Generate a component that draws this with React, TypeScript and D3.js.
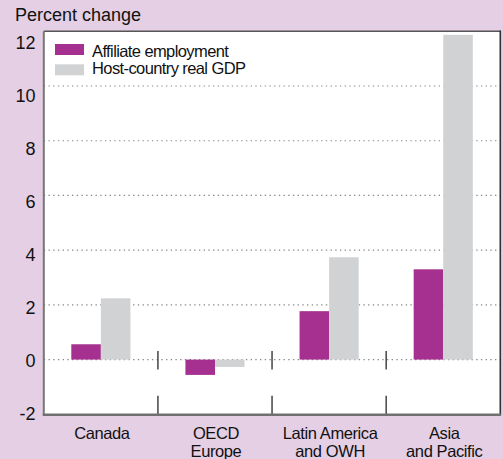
import React from "react";
import * as d3 from "d3";

const categories: string[][] = [
  ["Canada"],
  ["OECD", "Europe"],
  ["Latin America", "and OWH"],
  ["Asia", "and Pacific"],
];
const seriesNames = ["Affiliate employment", "Host-country real GDP"];
const affiliateEmployment = [0.56, -0.56, 1.77, 3.3];
const hostCountryGDP = [2.24, -0.27, 3.74, 11.87];
const yTicks = [-2, 0, 2, 4, 6, 8, 10, 12];
const gridValues = [0, 2, 4, 6, 8, 10];

const W = 503;
const H = 459;
const BG = "#E5CFE4";
const PURPLE = "#A5308F";
const GRAY = "#D1D2D4";
const FONT = "'Liberation Sans', Arial, Helvetica, sans-serif";

export default function App() {
  const left = 43.8;
  const right = 500.3;
  const top = 31.3;
  const bottom = 414.3;

  const x = d3
    .scaleBand<number>()
    .domain(categories.map((_, i) => i))
    .range([left, right])
    .paddingInner(0)
    .paddingOuter(0);
  const xs = d3
    .scaleBand<string>()
    .domain(seriesNames)
    .range([0, x.bandwidth()])
    .paddingInner(0)
    .paddingOuter(0.93);
  const y = d3.scaleLinear().domain([-2, 12]).range([bottom, top]);
  const yLabel = d3.scaleLinear().domain([-2, 12]).range([414, 43]);

  const series = [
    { name: seriesNames[0], values: affiliateEmployment, color: PURPLE },
    { name: seriesNames[1], values: hostCountryGDP, color: GRAY },
  ];

  const separators = categories.slice(1).map((_, i) => x(i + 1) as number);

  return (
    <svg
      width={W}
      height={H}
      style={{ position: "absolute", left: 0, top: 0, display: "block" }}
      fontFamily={FONT}
    >
      <rect x={0} y={0} width={W} height={H} fill={BG} />
      <text x={15} y={21} fontSize={18} fill="#111">
        Percent change
      </text>

      {/* plot area */}
      <rect x={left} y={top} width={right - left} height={bottom - top} fill="#fff" />

      {/* gridlines */}
      {gridValues.map((v) => (
        <line
          key={v}
          x1={left}
          x2={right}
          y1={y(v)}
          y2={y(v)}
          stroke="#8a8a8a"
          strokeWidth={1.2}
          strokeDasharray="1.4 3.3"
        />
      ))}

      {/* bars */}
      {series.map((s) =>
        s.values.map((v, i) => {
          const bx = (x(i) as number) + (xs(s.name) as number);
          const y0 = y(0);
          const y1 = y(v);
          return (
            <rect
              key={s.name + i}
              x={bx}
              y={Math.min(y0, y1)}
              width={xs.bandwidth()}
              height={Math.abs(y1 - y0)}
              fill={s.color}
            />
          );
        })
      )}

      {/* separators */}
      {separators.map((sx, i) => (
        <g key={i} stroke="#444" strokeWidth={1.5}>
          <line x1={sx} x2={sx} y1={y(0) - 8.5} y2={y(0) + 10} />
          <line x1={sx} x2={sx} y1={bottom - 18.5} y2={bottom} />
        </g>
      ))}

      {/* frame */}
      <line x1={left} x2={right} y1={top} y2={top} stroke="#555" strokeWidth={1.5} />
      <line x1={left} x2={left} y1={top} y2={bottom + 1} stroke="#777" strokeWidth={2} />
      <line x1={right} x2={right} y1={top - 0.7} y2={bottom + 1} stroke="#333" strokeWidth={1.6} />
      <line x1={left - 1} x2={right + 0.8} y1={bottom + 0.5} y2={bottom + 0.5} stroke="#707070" strokeWidth={2.5} />

      {/* y tick labels */}
      {yTicks.map((t) => (
        <text
          key={t}
          x={35.5}
          y={yLabel(t)}
          dy="0.36em"
          textAnchor="end"
          fontSize={18}
          fill="#111"
        >
          {t}
        </text>
      ))}

      {/* legend */}
      {series.map((s, i) => (
        <g key={s.name}>
          <rect x={55} y={44 + i * 20.3} width={29} height={11} fill={s.color} />
          <text
            x={92}
            y={56.7 + i * 17.6}
            fontSize={16.5}
            letterSpacing={-0.6}
            fill="#111"
          >
            {s.name}
          </text>
        </g>
      ))}

      {/* x labels */}
      {categories.map((lines, i) => (
        <text
          key={i}
          x={(x(i) as number) + x.bandwidth() / 2 + 1}
          textAnchor="middle"
          fontSize={16.5}
          letterSpacing={-0.4}
          fill="#111"
        >
          {lines.map((ln, j) => (
            <tspan key={j} x={(x(i) as number) + x.bandwidth() / 2 + 1} y={439.3 + j * 17.7}>
              {ln}
            </tspan>
          ))}
        </text>
      ))}
    </svg>
  );
}
